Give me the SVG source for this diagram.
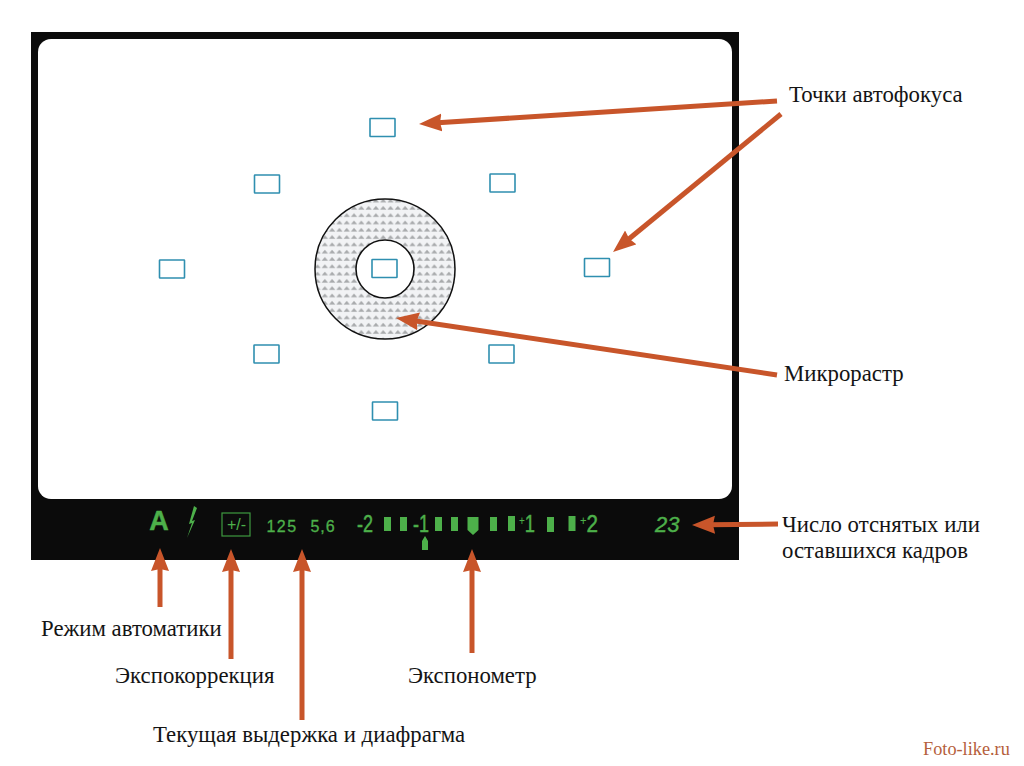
<svg xmlns="http://www.w3.org/2000/svg" width="1024" height="766" viewBox="0 0 1024 766">
<style>
.lbl{font-family:"Liberation Serif","Times New Roman",serif;font-size:22.800px;fill:#141414}
.af{fill:#fff;stroke:#2f8fb0;stroke-width:1.6}
.g{fill:#4db04a;font-family:"Liberation Sans",Arial,sans-serif}
.d{stroke:#4db04a;stroke-width:.5;font-size:24px;text-anchor:start}
.s{font-size:13px;stroke-width:.1}
.gb{fill:#4db04a}
.arr{stroke:#c8552a;stroke-width:5;fill:none;marker-end:url(#ah)}
</style>
<defs>
<marker id="ah" markerUnits="userSpaceOnUse" markerWidth="26" markerHeight="20" refX="8" refY="9" orient="auto"><path d="M0 0L23 9L0 18L2 9Z" fill="#c8552a"/></marker>
<pattern id="mr" patternUnits="userSpaceOnUse" width="7.3" height="7.3"><rect width="7.3" height="7.3" fill="#f2f3f5"/><path d="M0.5 5.200L3.600 1.700L6.800 5.200Z" fill="#a8aaac"/></pattern>
</defs>
<rect width="1024" height="766" fill="#fff"/>
<g id="frame"><rect x="31" y="32" width="708" height="528" fill="#0b0b0b"/><rect x="38" y="39" width="694" height="460" rx="13" fill="#fff"/></g>
<g id="microraster"><circle cx="385" cy="269" r="70" fill="url(#mr)" stroke="#111" stroke-width="1.5"/><circle cx="385" cy="269" r="29" fill="#fff" stroke="#111" stroke-width="1.6"/></g>
<g id="af-points">
<rect class="af" x="370" y="118.500" width="25" height="18" rx=".5"/>
<rect class="af" x="254.500" y="175" width="25" height="18" rx=".5"/>
<rect class="af" x="490" y="174" width="25" height="18" rx=".5"/>
<rect class="af" x="159.500" y="260" width="25" height="18" rx=".5"/>
<rect class="af" x="372" y="259.500" width="25" height="18" rx=".5"/>
<rect class="af" x="584.500" y="258.500" width="25" height="18" rx=".5"/>
<rect class="af" x="254" y="345" width="25" height="18" rx=".5"/>
<rect class="af" x="489" y="345" width="25" height="18" rx=".5"/>
<rect class="af" x="372.500" y="402" width="25" height="18" rx=".5"/>
</g>
<g id="status-bar">
<text class="g" x="159" y="530" font-size="27" font-weight="700" text-anchor="middle" stroke="#4db04a" stroke-width=".5">A</text>
<path class="gb" d="M194 506L189 524L192 523L187 538L195 520L192 521L197 508Z"/>
<rect x="222" y="513" width="28" height="23" fill="none" stroke="#3e9a40" stroke-width="1.2"/>
<text class="g" x="236.500" y="530" font-size="16" text-anchor="middle">+/-</text>
<text class="g" x="282" y="532" font-size="16" text-anchor="middle" letter-spacing="1.500" stroke="#4db04a" stroke-width=".3">125</text>
<text class="g" x="323" y="532" font-size="16" text-anchor="middle" letter-spacing="1" stroke="#4db04a" stroke-width=".3">5,6</text>
<text class="g d" x="357" y="532" textLength="16" lengthAdjust="spacingAndGlyphs">-2</text>
<rect class="gb" x="384" y="517" width="7" height="14"/><rect class="gb" x="400" y="517" width="7" height="14"/>
<text class="g d" x="413" y="532" textLength="16" lengthAdjust="spacingAndGlyphs">-1</text>
<path class="gb" d="M422 550V541L425 536L428 541V550Z"/>
<rect class="gb" x="435" y="517" width="7" height="14"/><rect class="gb" x="451" y="517" width="7" height="14"/>
<path class="gb" d="M467.500 517H478.500V530L473 535L467.500 530Z"/>
<rect class="gb" x="490" y="517" width="7" height="14"/><rect class="gb" x="508" y="516" width="7" height="15"/>
<text class="g d" x="519" y="532" textLength="16" lengthAdjust="spacingAndGlyphs"><tspan font-size="13" dy="-7" stroke-width=".1">+</tspan><tspan dy="7">1</tspan></text>
<rect class="gb" x="547" y="517" width="7" height="15"/><rect class="gb" x="568.500" y="516" width="7" height="15"/>
<text class="g d" x="580" y="532" textLength="18" lengthAdjust="spacingAndGlyphs"><tspan font-size="13" dy="-7" stroke-width=".1">+</tspan><tspan dy="7">2</tspan></text>
<text class="g" x="655" y="532" font-size="22" font-style="italic" stroke="#4db04a" stroke-width=".4">23</text>
</g>
<g id="connectors">
<line class="arr" x1="777" y1="101" x2="434" y2="123"/>
<line class="arr" x1="781" y1="114" x2="624.600" y2="242.500"/>
<line class="arr" x1="777" y1="375" x2="410.800" y2="320.200"/>
<line class="arr" x1="778" y1="524" x2="707" y2="524.800"/>
<line class="arr" x1="160" y1="607" x2="160" y2="563"/>
<line class="arr" x1="231" y1="659" x2="231" y2="564"/>
<line class="arr" x1="302" y1="720" x2="302" y2="564"/>
<line class="arr" x1="472" y1="653" x2="472" y2="564"/>
</g>
<g id="labels">
<text class="lbl" x="789" y="101.500">Точки автофокуса</text>
<text class="lbl" x="784" y="380.500">Микрорастр</text>
<text class="lbl" x="782" y="531.500">Число отснятых или</text>
<text class="lbl" x="782" y="558">оставшихся кадров</text>
<text class="lbl" x="41" y="635.500">Режим автоматики</text>
<text class="lbl" x="115" y="682.500">Экспокоррекция</text>
<text class="lbl" x="408" y="682.500">Экспонометр</text>
<text class="lbl" x="153" y="741.500">Текущая выдержка и диафрагма</text>
<text x="923" y="755" font-family="Liberation Serif,serif" font-size="18.300" fill="#b5603c">Foto-like.ru</text>
</g>
</svg>
